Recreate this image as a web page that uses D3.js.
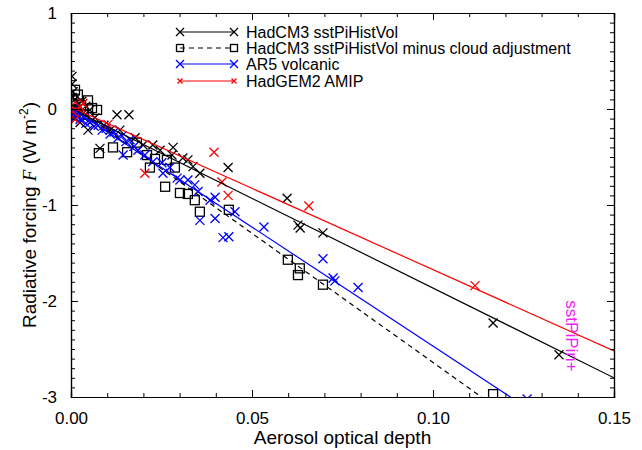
<!DOCTYPE html>
<html>
<head>
<meta charset="utf-8">
<script src="https://cdn.jsdelivr.net/npm/d3@7"></script>
<style>
  body { margin: 0; background: #fff; }
  svg text { font-family: "Liberation Sans", Arial, Helvetica, sans-serif; }
</style>
</head>
<body>
<div id="chart"></div>
<script>
// HadCM3 sstPiHistVol (black crosses)
var hadcm3X = [0.0003, 0.0003, 0.0006, 0.0011, 0.0019, 0.003, 0.0041, 0.0052, 0.0008, 0.0025,
    0.0047, 0.0066, 0.008, 0.0091, 0.0108, 0.0127, 0.016, 0.0135, 0.0177, 0.0199,
    0.0226, 0.0246, 0.0282, 0.0279, 0.0309, 0.0323, 0.0337, 0.0356, 0.0434, 0.0597,
    0.0627, 0.0633, 0.0696, 0.1166, 0.1348, 0.0004, 0.0014, 0.0035, 0.0058];
var hadcm3Y = [0.34, 0.26, 0.18, 0.10, 0.05, 0.08, 0.03, -0.01, -0.09, -0.14,
    -0.22, -0.09, -0.41, -0.17, -0.22, -0.06, -0.06, -0.22, -0.30, -0.375,
    -0.375, -0.43, -0.40, -0.48, -0.51, -0.53, -0.60, -0.67, -0.61, -0.93,
    -1.21, -1.24, -1.29, -2.23, -2.56, 0.12, 0.0, -0.04, -0.12];

// HadCM3 sstPiHistVol minus cloud adjustment (black squares)
var cloudX = [0.0011, 0.0003, 0.0019, 0.0047, 0.0058, 0.0072, 0.0014, 0.0077, 0.0116, 0.0155,
    0.0182, 0.021, 0.0218, 0.0232, 0.026, 0.0265, 0.0287, 0.0301, 0.0323, 0.0342,
    0.0356, 0.0436, 0.0599, 0.0632, 0.0627, 0.0696, 0.1166, 0.0005, 0.0028, 0.0036];
var cloudY = [0.20, 0.09, 0.15, 0.09, 0.01, -0.01, -0.01, -0.46, -0.40, -0.45,
    -0.35, -0.48, -0.61, -0.52, -0.81, -0.53, -0.61, -0.875, -0.885, -0.95,
    -1.07, -1.05, -1.57, -1.66, -1.73, -1.83, -2.97, 0.0, 0.04, -0.06];

// AR5 volcanic (blue crosses)
var ar5X = [0.0003, 0.0006, 0.0011, 0.0019, 0.0025, 0.0036, 0.0041, 0.0052, 0.0064, 0.0075,
    0.0086, 0.0097, 0.0108, 0.0119, 0.013, 0.0141, 0.0152, 0.0163, 0.0174, 0.0185,
    0.0144, 0.0204, 0.0226, 0.0251, 0.0254, 0.0273, 0.0293, 0.0301, 0.0323, 0.0342,
    0.0351, 0.0384, 0.0398, 0.0356, 0.0398, 0.0453, 0.042, 0.0436, 0.0533, 0.0696,
    0.0724, 0.0729, 0.0793, 0.126];
var ar5Y = [-0.01, -0.05, -0.09, -0.07, -0.11, -0.09, -0.15, -0.14, -0.18, -0.17,
    -0.22, -0.20, -0.26, -0.24, -0.30, -0.28, -0.34, -0.32, -0.39, -0.43,
    -0.48, -0.48, -0.55, -0.56, -0.67, -0.61, -0.72, -0.74, -0.74, -0.79,
    -0.86, -0.95, -0.92, -1.16, -1.14, -1.07, -1.34, -1.33, -1.23, -1.56,
    -1.76, -1.79, -1.86, -3.02];

// HadGEM2 AMIP (red crosses)
var hadgemX = [0.0003, 0.0006, 0.0011, 0.0025, 0.0033, 0.0102, 0.0204, 0.0395, 0.0417, 0.0434,
    0.0657, 0.1116];
var hadgemY = [0.04, -0.03, -0.11, 0.02, 0.06, -0.16, -0.67, -0.45, -0.76, -0.90,
    -1.01, -1.84];

// regression line end points (x = 0 and x = 0.15)
var fitX = [0, 0.15];
var hadcm3Fit = [0.004, -2.80];
var cloudFit = [0.05, -3.985];
var ar5Fit = [0.01, -3.71];
var hadgemFit = [0.02, -2.52];

var legendLabels = ["HadCM3 sstPiHistVol", "HadCM3 sstPiHistVol minus cloud adjustment",
    "AR5 volcanic", "HadGEM2 AMIP"];
var xTicks = [0, 0.05, 0.10, 0.15];
var yTicks = [1, 0, -1, -2, -3];

var width = 642, height = 450;
var margin = {top: 13, right: 28, bottom: 53, left: 71};

var svg = d3.select("#chart").append("svg")
    .attr("width", width)
    .attr("height", height);

var x = d3.scaleLinear().domain([0, 0.15]).range([margin.left, width - margin.right]);
var y = d3.scaleLinear().domain([-3, 1]).range([height - margin.bottom, margin.top]);

var plotBottom = y(-3), plotTop = y(1), plotLeft = x(0), plotRight = x(0.15);

svg.append("clipPath").attr("id", "plotclip")
    .append("rect")
    .attr("x", plotLeft).attr("y", plotTop)
    .attr("width", plotRight - plotLeft).attr("height", plotBottom - plotTop);

var plot = svg.append("g").attr("clip-path", "url(#plotclip)");

function cross(g, cx, cy, s, color) {
    g.append("path")
        .attr("d", "M" + (cx - s) + "," + (cy - s) + "L" + (cx + s) + "," + (cy + s) +
            "M" + (cx - s) + "," + (cy + s) + "L" + (cx + s) + "," + (cy - s))
        .attr("stroke", color)
        .attr("stroke-width", 1.3)
        .attr("fill", "none");
}

function square(g, cx, cy, s, color) {
    g.append("rect")
        .attr("x", cx - s).attr("y", cy - s)
        .attr("width", 2 * s).attr("height", 2 * s)
        .attr("stroke", color)
        .attr("stroke-width", 1.3)
        .attr("fill", "none");
}

var line = d3.line()
    .x(function(d) { return x(d[0]); })
    .y(function(d) { return y(d[1]); });

// markers
cloudX.forEach(function(v, i) { square(plot, x(v), y(cloudY[i]), 4.5, "#000"); });
hadcm3X.forEach(function(v, i) { cross(plot, x(v), y(hadcm3Y[i]), 4.5, "#000"); });
ar5X.forEach(function(v, i) { cross(plot, x(v), y(ar5Y[i]), 4.5, "#0000ff"); });
hadgemX.forEach(function(v, i) { cross(plot, x(v), y(hadgemY[i]), 4.5, "#ff0000"); });

// fit lines
plot.append("path").attr("d", line(d3.zip(fitX, cloudFit)))
    .attr("stroke", "#000").attr("stroke-width", 1.2).attr("stroke-dasharray", "5,4").attr("fill", "none");
plot.append("path").attr("d", line(d3.zip(fitX, hadcm3Fit)))
    .attr("stroke", "#000").attr("stroke-width", 1.2).attr("fill", "none");
plot.append("path").attr("d", line(d3.zip(fitX, ar5Fit)))
    .attr("stroke", "#0000ff").attr("stroke-width", 1.2).attr("fill", "none");
plot.append("path").attr("d", line(d3.zip(fitX, hadgemFit)))
    .attr("stroke", "#ff0000").attr("stroke-width", 1.2).attr("fill", "none");

// axes, ticks pointing inwards on all four sides
var xMinor = d3.range(0, 0.1501, 0.01);
var yMinor = d3.range(-3, 1.001, 0.1);

function styleAxis(g) {
    g.select(".domain").attr("stroke", "#000").attr("stroke-width", 1.2);
    g.selectAll(".tick line").attr("stroke", "#000").attr("stroke-width", 1);
    g.selectAll(".tick text").attr("font-size", "17px").attr("fill", "#000")
        .attr("font-family", "Liberation Sans, Arial, sans-serif");
}

svg.append("g").attr("transform", "translate(0," + plotBottom + ")")
    .call(d3.axisBottom(x).tickValues(xMinor).tickSize(-4).tickFormat(""))
    .call(styleAxis);
svg.append("g").attr("transform", "translate(0," + plotBottom + ")")
    .call(d3.axisBottom(x).tickValues(xTicks).tickSize(-7).tickPadding(15).tickFormat(d3.format(".2f")))
    .call(styleAxis);
svg.append("g").attr("transform", "translate(0," + plotTop + ")")
    .call(d3.axisTop(x).tickValues(xMinor).tickSize(-4).tickFormat(""))
    .call(styleAxis);
svg.append("g").attr("transform", "translate(0," + plotTop + ")")
    .call(d3.axisTop(x).tickValues(xTicks).tickSize(-7).tickFormat(""))
    .call(styleAxis);

svg.append("g").attr("transform", "translate(" + plotLeft + ",0)")
    .call(d3.axisLeft(y).tickValues(yMinor).tickSize(-4).tickFormat(""))
    .call(styleAxis);
svg.append("g").attr("transform", "translate(" + plotLeft + ",0)")
    .call(d3.axisLeft(y).tickValues(yTicks).tickSize(-7).tickPadding(14).tickFormat(function(d) { return String(d); }))
    .call(styleAxis);
svg.append("g").attr("transform", "translate(" + plotRight + ",0)")
    .call(d3.axisRight(y).tickValues(yMinor).tickSize(-4).tickFormat(""))
    .call(styleAxis);
svg.append("g").attr("transform", "translate(" + plotRight + ",0)")
    .call(d3.axisRight(y).tickValues(yTicks).tickSize(-7).tickFormat(""))
    .call(styleAxis);

// axis titles
svg.append("text")
    .attr("x", (plotLeft + plotRight) / 2)
    .attr("y", 444)
    .attr("text-anchor", "middle")
    .attr("font-size", "19px")
    .text("Aerosol optical depth");

var yLabel = svg.append("text")
    .attr("transform", "translate(36," + ((plotTop + plotBottom) / 2 + 10) + ") rotate(-90)")
    .attr("text-anchor", "middle")
    .attr("font-size", "19px");
yLabel.append("tspan").text("Radiative forcing ");
yLabel.append("tspan").attr("font-family", "Liberation Serif, Times New Roman, serif")
    .attr("font-style", "italic").text("F");
yLabel.append("tspan").text(" (W m");
yLabel.append("tspan").attr("font-size", "12px").attr("dy", -8).text("-2");
yLabel.append("tspan").attr("dy", 8).text(")");

// annotation
svg.append("text")
    .attr("transform", "translate(566,336) rotate(90)")
    .attr("text-anchor", "middle")
    .attr("font-size", "17px")
    .attr("fill", "#f020f0")
    .text("sstPiPin+");

// legend
var legendY = [32, 48, 64, 81];
var legX0 = 180, legX1 = 234;
var legend = svg.append("g");
legend.append("line").attr("x1", legX0).attr("x2", legX1).attr("y1", legendY[0]).attr("y2", legendY[0])
    .attr("stroke", "#000").attr("stroke-width", 1.2);
cross(legend, legX0, legendY[0], 4, "#000");
cross(legend, legX1, legendY[0], 4, "#000");
legend.append("line").attr("x1", legX0).attr("x2", legX1).attr("y1", legendY[1]).attr("y2", legendY[1])
    .attr("stroke", "#000").attr("stroke-width", 1.2).attr("stroke-dasharray", "5,4");
square(legend, legX0, legendY[1], 3.5, "#000");
square(legend, legX1, legendY[1], 3.5, "#000");
legend.append("line").attr("x1", legX0).attr("x2", legX1).attr("y1", legendY[2]).attr("y2", legendY[2])
    .attr("stroke", "#0000ff").attr("stroke-width", 1.2);
cross(legend, legX0, legendY[2], 4, "#0000ff");
cross(legend, legX1, legendY[2], 4, "#0000ff");
legend.append("line").attr("x1", legX0).attr("x2", legX1).attr("y1", legendY[3]).attr("y2", legendY[3])
    .attr("stroke", "#ff0000").attr("stroke-width", 1.2);
cross(legend, legX0, legendY[3], 2.5, "#ff0000");
cross(legend, legX1, legendY[3], 2.5, "#ff0000");

legend.selectAll("text.leg")
    .data(legendLabels)
    .enter()
    .append("text")
    .attr("class", "leg")
    .attr("x", 246)
    .attr("y", function(d, i) { return legendY[i] + 6; })
    .attr("font-size", "16px")
    .attr("fill", "#000")
    .text(function(d) { return d; });
</script>
</body>
</html>
